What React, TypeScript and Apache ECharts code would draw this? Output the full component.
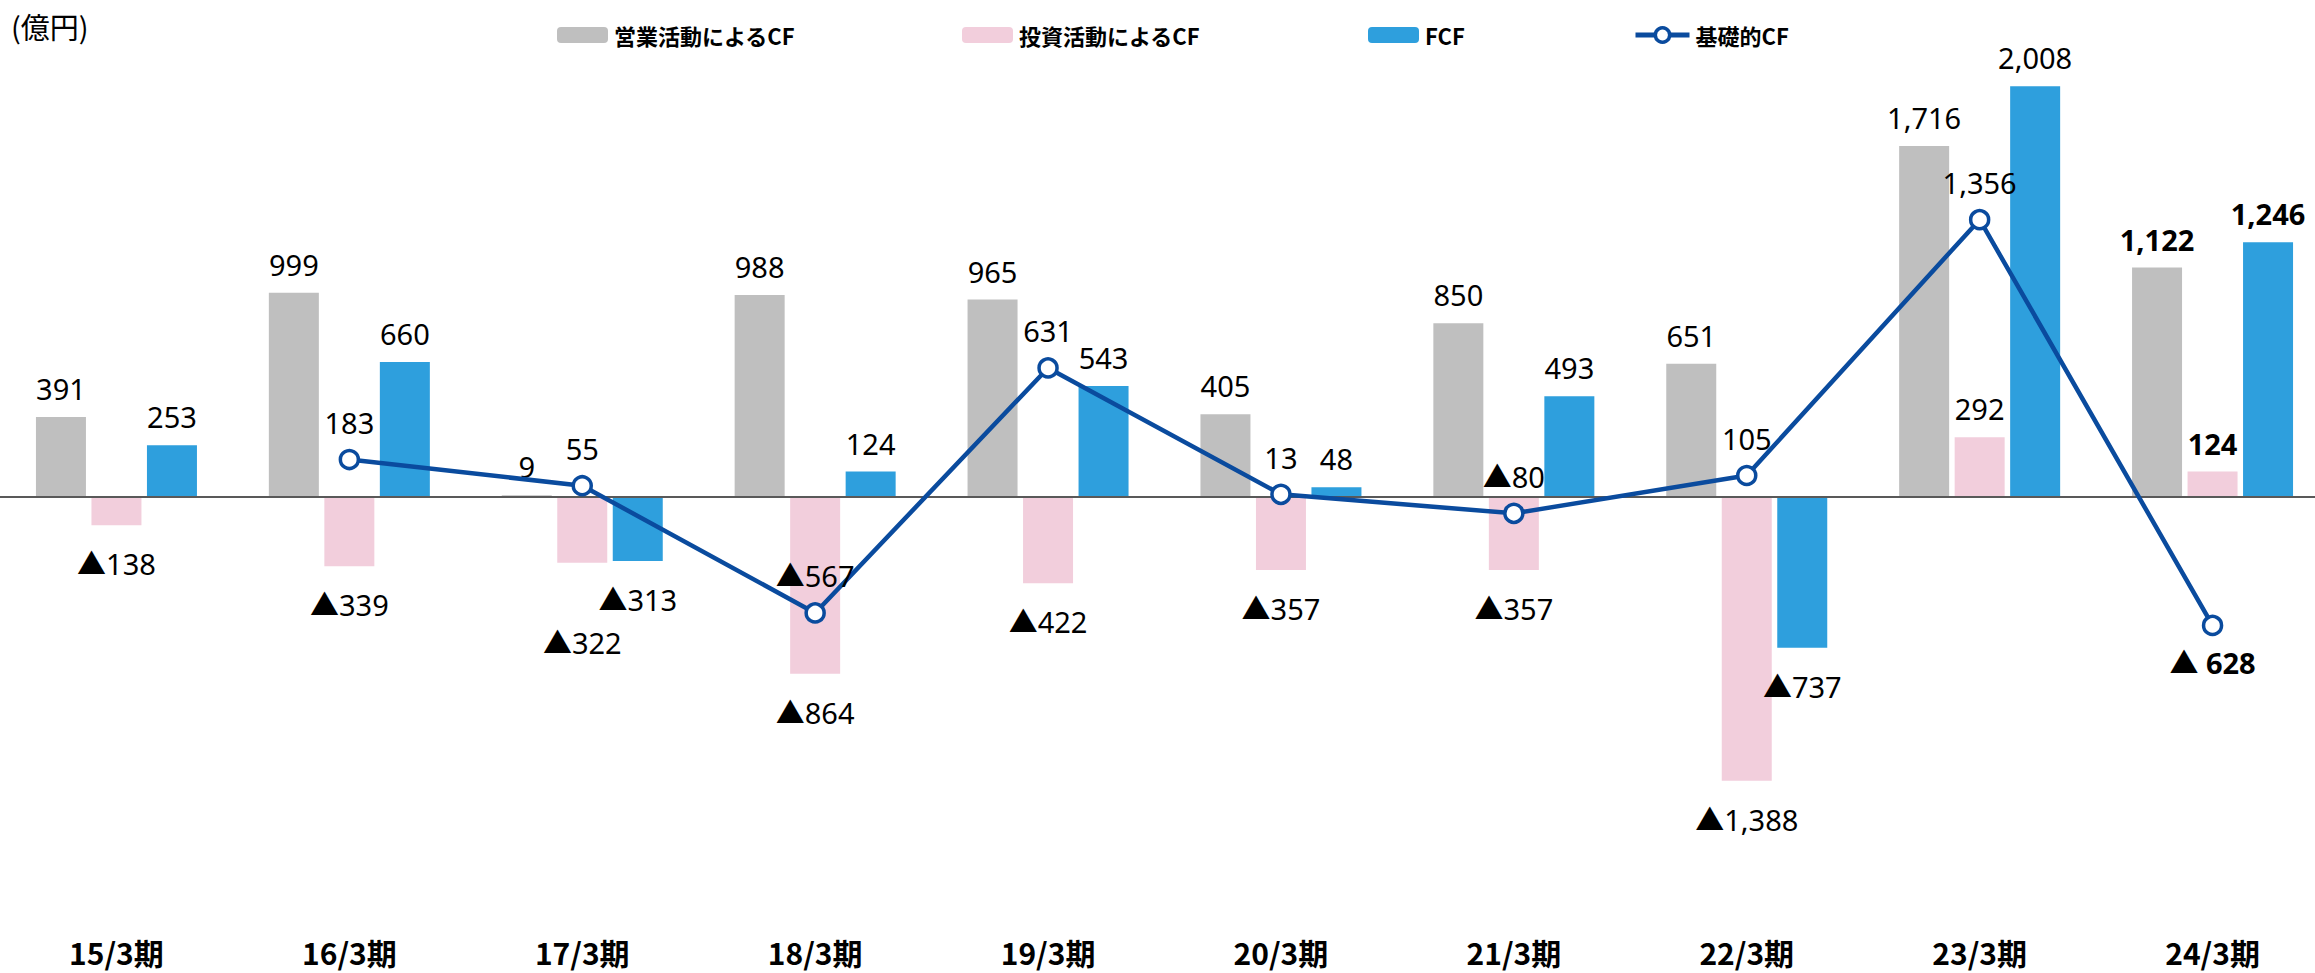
import React, { useEffect, useRef } from 'react';
import * as echarts from 'echarts';

const categories = ['15/3期', '16/3期', '17/3期', '18/3期', '19/3期', '20/3期', '21/3期', '22/3期', '23/3期', '24/3期'];
const operatingCF = [391, 999, 9, 988, 965, 405, 850, 651, 1716, 1122];
const investingCF = [-138, -339, -322, -864, -422, -357, -357, -1388, 292, 124];
const freeCF = [253, 660, -313, 124, 543, 48, 493, -737, 2008, 1246];
const baseCF: (number | null)[] = [null, 183, 55, -567, 631, 13, -80, 105, 1356, -628];
const seriesNames = ['営業活動によるCF', '投資活動によるCF', 'FCF', '基礎的CF'];
const unitLabel = '(億円)';

const COLORS = ['#BFBFBF', '#F2CEDC', '#2E9FDD', '#0A4B9E'];
const FONT = '"Noto Sans", "Noto Sans CJK JP", sans-serif';
const JPFONT = '"Noto Sans CJK JP", "Noto Sans", sans-serif';
const LAST = categories.length - 1;

const fmt = (v: number, spaced = false) => {
  const s = Math.abs(v).toLocaleString('en-US');
  return v < 0 ? (spaced ? '▲ ' : '▲') + s : s;
};

const barData = (vals: number[], extra: Record<number, number> = {}) =>
  vals.map((v, i) => ({
    value: v,
    label: {
      position: v >= 0 ? 'top' : 'bottom',
      distance: (v >= 0 ? 14 : 24) + (extra[i] || 0),
      fontWeight: i === LAST ? 'bold' : 'normal',
    },
  }));

export default function App() {
  const ref = useRef<HTMLDivElement>(null);
  useEffect(() => {
    if (!ref.current) return;
    const chart = echarts.init(ref.current, undefined, { renderer: 'svg' });
    const labelBase = {
      show: true,
      color: '#000',
      fontSize: 29,
      fontFamily: FONT,
      formatter: (p: any) => fmt(p.value),
    };
    const legendBase = {
      top: 19,
      itemWidth: 51,
      itemHeight: 16,
      itemGap: 0,
      selectedMode: false,
      textStyle: { fontSize: 22, fontWeight: 'bold', color: '#000', fontFamily: JPFONT, padding: [0, 0, 0, 1] },
    };
    chart.setOption({
      animation: false,
      backgroundColor: '#fff',
      legend: [
        { ...legendBase, left: 552, data: [seriesNames[0]] },
        { ...legendBase, left: 957, data: [seriesNames[1]] },
        { ...legendBase, left: 1363, data: [seriesNames[2]] },
        {
          ...legendBase,
          left: 1628,
          itemWidth: 54,
          itemHeight: 18,
          lineStyle: { width: 5 },
          itemStyle: { borderWidth: 3.5 },
          data: [seriesNames[3]],
        },
      ],
      graphic: [
        {
          type: 'text',
          left: 11,
          top: 11,
          style: { text: unitLabel, fontSize: 29, fill: '#000', fontFamily: JPFONT },
        },
      ],
      grid: { left: 0, width: 2329, top: 67.5, height: 838.5 },
      xAxis: {
        type: 'category',
        data: categories,
        axisLine: { show: false, onZero: false },
        axisTick: { show: false },
        axisLabel: {
          margin: 31,
          fontSize: 30,
          fontWeight: 'bold',
          color: '#000',
          fontFamily: JPFONT,
        },
      },
      yAxis: {
        type: 'value',
        min: -2000,
        max: 2100,
        show: false,
        splitLine: { show: false },
      },
      series: [
        {
          name: seriesNames[0],
          type: 'bar',
          barWidth: 50,
          barGap: '11%',
          itemStyle: { color: COLORS[0] },
          label: labelBase,
          data: barData(operatingCF),
          markLine: {
            silent: true,
            symbol: 'none',
            label: { show: false },
            lineStyle: { color: '#595959', width: 2, type: 'solid' },
            data: [{ yAxis: 0 }],
            z: 5,
          },
        },
        {
          name: seriesNames[1],
          type: 'bar',
          barWidth: 50,
          barGap: '11%',
          itemStyle: { color: COLORS[1] },
          label: labelBase,
          data: barData(investingCF, { 2: 41 }),
        },
        {
          name: seriesNames[2],
          type: 'bar',
          barWidth: 50,
          barGap: '11%',
          itemStyle: { color: COLORS[2] },
          label: labelBase,
          data: barData(freeCF),
        },
        {
          name: seriesNames[3],
          type: 'line',
          z: 10,
          symbol: 'circle',
          symbolSize: 18,
          showAllSymbol: true,
          lineStyle: { color: COLORS[3], width: 4.5 },
          itemStyle: { color: '#fff', borderColor: COLORS[3], borderWidth: 3.5 },
          label: labelBase,
          data: baseCF.map((v, i) =>
            v === null
              ? '-'
              : {
                  value: v,
                  label: {
                    position: i === LAST ? 'bottom' : 'top',
                    distance: 12,
                    fontWeight: i === LAST ? 'bold' : 'normal',
                    formatter: (p: any) => fmt(p.value, i === LAST),
                  },
                }
          ),
        },
      ],
    });
    return () => chart.dispose();
  }, []);
  return (
    <div
      ref={ref}
      style={{ position: 'fixed', left: 0, top: 0, width: 2330, height: 973, background: '#fff' }}
    />
  );
}
